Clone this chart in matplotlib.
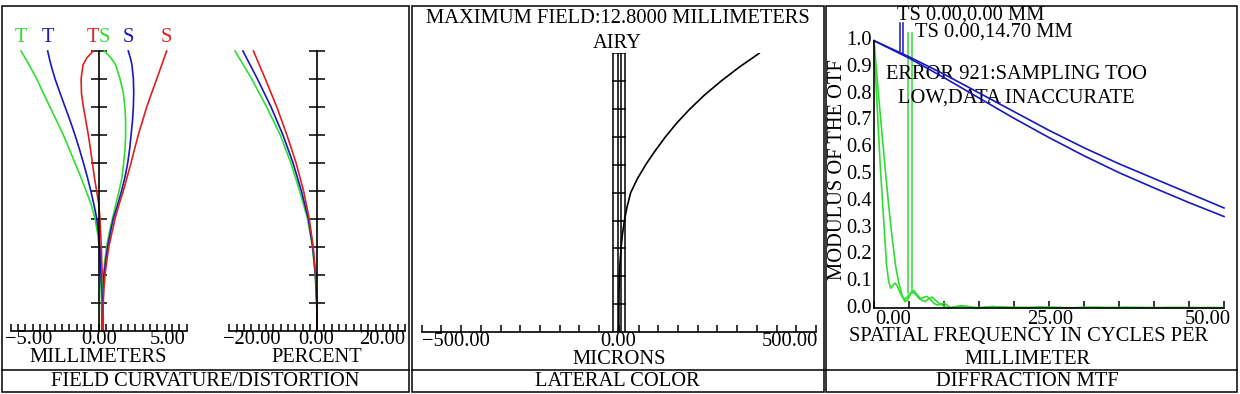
import numpy as np
import matplotlib
matplotlib.use("Agg")
import matplotlib.pyplot as plt
from matplotlib.patches import Rectangle

W, H = 1240, 394
plt.rcParams["font.family"] = ["Liberation Serif", "DejaVu Serif"]
FS = 14.8

RED = "#e02020"
GREEN = "#30dd30"
BLUE = "#1818c0"

# ---- field curvature / distortion data (relative field 0..1) ----
field_fc = [0.0, 0.05, 0.1, 0.15, 0.2, 0.25, 0.3, 0.35, 0.4, 0.45, 0.5,
            0.55, 0.6, 0.65, 0.7, 0.75, 0.8, 0.85, 0.9, 0.95, 0.975, 1.0]
tan_green = [0.17, 0.17, 0.16, 0.14, 0.11, 0.08, 0.03, -0.07, -0.21, -0.42, -0.72,
             -1.02, -1.35, -1.68, -2.01, -2.39, -2.77, -3.15, -3.52, -3.95, -4.18, -4.41]
tan_blue = [0.20, 0.20, 0.19, 0.17, 0.13, 0.10, 0.07, -0.01, -0.11, -0.27, -0.45,
            -0.65, -0.87, -1.10, -1.35, -1.62, -1.91, -2.20, -2.48, -2.71, -2.81, -2.90]
tan_red = [0.26, 0.26, 0.24, 0.22, 0.20, 0.17, 0.15, 0.11, 0.07, 0.01, -0.12,
           -0.25, -0.36, -0.47, -0.59, -0.73, -0.87, -0.98, -1.00, -0.89, -0.68, -0.31]
sag_green = [0.19, 0.19, 0.20, 0.23, 0.28, 0.35, 0.45, 0.60, 0.78, 0.97, 1.16,
             1.33, 1.42, 1.50, 1.53, 1.53, 1.49, 1.40, 1.21, 0.97, 0.70, 0.32]
sag_blue = [0.20, 0.20, 0.22, 0.26, 0.30, 0.40, 0.51, 0.66, 0.83, 1.08, 1.30,
            1.50, 1.65, 1.76, 1.84, 1.92, 1.97, 1.99, 1.97, 1.89, 1.80, 1.68]
sag_red = [0.24, 0.24, 0.26, 0.30, 0.36, 0.46, 0.58, 0.75, 0.93, 1.15, 1.40,
           1.62, 1.84, 2.04, 2.25, 2.49, 2.73, 3.01, 3.30, 3.58, 3.72, 3.86]

field_dist = [0.0, 0.1, 0.2, 0.3, 0.4, 0.5, 0.6, 0.7, 0.8, 0.9, 1.0]
dist_green = [0.0, -0.10, -0.45, -1.10, -2.20, -4.00, -6.00, -8.40, -11.50, -14.90, -18.70]
dist_blue = [0.0, -0.10, -0.40, -1.00, -2.00, -3.60, -5.50, -7.80, -10.50, -13.60, -16.90]
dist_red = [0.0, -0.08, -0.35, -0.90, -1.80, -3.10, -4.80, -6.90, -9.20, -11.80, -14.50]

# ---- lateral color data (microns) ----
field_lc = [0.0, 0.05, 0.1, 0.15, 0.2, 0.25, 0.3, 0.35, 0.4, 0.45, 0.5,
            0.55, 0.6, 0.65, 0.7, 0.75, 0.8, 0.85, 0.9, 0.95, 1.0]
lat_color = [0.0, 0.05, 0.2, 0.6, 1.5, 3.0, 5.6, 9.0, 14.0, 21.0, 30.0,
             47.0, 68.0, 92.0, 118.0, 147.0, 180.0, 217.0, 259.0, 305.0, 356.0]
airy_radius = 15.0
airy_inner = [-2.0, 5.0]

# ---- MTF data ----
freq_blue = [0, 5, 10, 15, 20, 25, 30, 35, 40, 45, 50]
mtf_blue_t = [1.0, 0.940, 0.875, 0.805, 0.735, 0.665, 0.600, 0.540, 0.485, 0.430, 0.375]
mtf_blue_s = [1.0, 0.935, 0.862, 0.786, 0.710, 0.638, 0.570, 0.507, 0.450, 0.395, 0.343]

freq_green_a = [0, 0.4, 0.9, 1.5, 1.8, 2.1, 2.4, 2.7, 3.0, 3.3, 3.7, 4.1, 4.5, 5.0, 5.5,
                6.0, 6.5, 7.0, 7.5, 8.0, 8.5, 9.0, 9.5, 10.0, 10.5, 11.0, 12, 13, 14,
                15, 16, 17, 18, 20, 22, 24, 26, 28, 30, 33, 36, 39, 42, 45, 48, 50]
mtf_green_a = [1.0, 0.78, 0.53, 0.28, 0.16, 0.10, 0.075, 0.085, 0.094, 0.085, 0.06, 0.04,
               0.035, 0.05, 0.062, 0.05, 0.035, 0.04, 0.045, 0.035, 0.02, 0.012, 0.015,
               0.02, 0.01, 0.002, 0.006, 0.008, 0.004, 0.002, 0.005, 0.007, 0.003, 0.004,
               0.002, 0.005, 0.003, 0.001, 0.004, 0.002, 0.004, 0.002, 0.003, 0.002,
               0.003, 0.002]
freq_green_b = [0, 0.7, 1.57, 2.0, 2.52, 3.1, 3.5, 4.0, 4.4, 4.8, 5.3, 5.7, 6.2, 6.8,
                7.3, 7.8, 8.3, 8.8, 9.3, 10.0, 10.6, 11.5, 12.5, 13.5, 14.5, 16, 18,
                20, 23, 26, 29, 32, 35, 38, 41, 44, 47, 50]
mtf_green_b = [1.0, 0.78, 0.53, 0.41, 0.28, 0.156, 0.10, 0.05, 0.025, 0.03, 0.06, 0.066,
               0.05, 0.03, 0.025, 0.035, 0.042, 0.03, 0.018, 0.008, 0.0, 0.006, 0.01,
               0.006, 0.002, 0.003, 0.006, 0.002, 0.004, 0.003, 0.002, 0.004, 0.002,
               0.003, 0.002, 0.003, 0.002, 0.002]

fig = plt.figure(figsize=(W / 100, H / 100), dpi=100)


def px_axes(x0, y0, x1, y1):
    ax = fig.add_axes([x0 / W, 1 - y1 / H, (x1 - x0) / W, (y1 - y0) / H])
    ax.patch.set_alpha(0)
    return ax


# background for frames and text, in pixel coordinates
bg = fig.add_axes([0, 0, 1, 1])
bg.set_xlim(0, W)
bg.set_ylim(H, 0)
bg.axis("off")

for x0, x1 in [(1.5, 408.5), (411.5, 823.5), (826, 1237)]:
    bg.add_patch(Rectangle((x0, 6), x1 - x0, 386, fill=False, lw=1.1, ec="black"))
    bg.plot([x0, x1], [370, 370], color="black", lw=1.1)


def txt(x, y, s, ha="center", **kw):
    bg.text(x, y, s, ha=ha, va="center", fontsize=FS, **kw)


def style_centered(ax, xmax, nticks):
    ax.set_xlim(-xmax, xmax)
    ax.set_ylim(0, 1)
    for s in ["top", "right"]:
        ax.spines[s].set_visible(False)
    ax.spines["left"].set_position(("data", 0))
    ax.spines["bottom"].set_position(("data", 0))
    for s in ["left", "bottom"]:
        ax.spines[s].set_linewidth(1.2)
    ax.set_xticks(np.linspace(-xmax, xmax, nticks))
    ax.set_yticks(np.arange(1, 11) / 10)
    ax.tick_params(axis="x", direction="in", length=5, width=1.1, labelbottom=False)
    ax.tick_params(axis="y", direction="inout", length=12, width=1.1, labelleft=False)


# ---- panel 1: field curvature ----
ax_fc = px_axes(10.7, 51, 186.7, 330.5)
style_centered(ax_fc, 5, 25)
curves = [(tan_green, GREEN, "T"), (tan_blue, BLUE, "T"), (tan_red, RED, "T"),
          (sag_green, GREEN, "S"), (sag_blue, BLUE, "S"), (sag_red, RED, "S")]
for vals, col, lab in curves:
    ax_fc.plot(vals, field_fc, color=col, lw=1.2, clip_on=False)
    ax_fc.annotate(lab, (vals[-1], 1.0), xytext=(0, 9.5), textcoords="offset points",
                   ha="center", va="center", color=col, fontsize=FS,
                   annotation_clip=False)

ax_di = px_axes(229.3, 51, 405, 330.5)
style_centered(ax_di, 20, 25)
for vals, col in [(dist_green, GREEN), (dist_blue, BLUE), (dist_red, RED)]:
    ax_di.plot(vals, field_dist, color=col, lw=1.2, clip_on=False)

txt(5, 340, "\u22125.00", ha="left")
txt(98.7, 340, "0.00")
txt(186, 340, "5.00", ha="right")
txt(98, 357.5, "MILLIMETERS")
txt(223, 340, "\u221220.00", ha="left")
txt(316, 340, "0.00")
txt(405.5, 340, "20.00", ha="right")
txt(317, 357.5, "PERCENT")
txt(205, 381, "FIELD CURVATURE/DISTORTION")

# ---- panel 2: lateral color ----
ax_lc = px_axes(421.7, 53.3, 816, 332)
ax_lc.set_xlim(-500, 500)
ax_lc.set_ylim(0, 1)
for s in ["top", "right", "left"]:
    ax_lc.spines[s].set_visible(False)
ax_lc.spines["bottom"].set_linewidth(1.2)
ax_lc.set_xticks(np.linspace(-500, 500, 21))
ax_lc.set_yticks([])
ax_lc.tick_params(axis="x", direction="in", length=5, width=1.1, labelbottom=False)
ax_lc.plot(lat_color, field_lc, color="black", lw=1.2)
# airy disk band
for xv in [-airy_radius] + airy_inner + [airy_radius]:
    ax_lc.plot([xv, xv], [0, 1], color="black", lw=1.1)
for f in np.arange(1, 11) / 10:
    ax_lc.plot([-airy_radius, airy_radius], [f, f], color="black", lw=1.1)

txt(617.5, 18, "MAXIMUM FIELD:12.8000 MILLIMETERS")
txt(617, 43, "AIRY")
txt(421.7, 342, "\u2212500.00", ha="left")
txt(618.5, 342, "0.00")
txt(818, 342, "500.00", ha="right")
txt(619, 360, "MICRONS")
txt(617, 381, "LATERAL COLOR")

# ---- panel 3: diffraction MTF ----
ax_mtf = px_axes(874, 40.7, 1224, 308.3)
ax_mtf.set_xlim(0, 50)
ax_mtf.set_ylim(0, 1)
for s in ["top", "right"]:
    ax_mtf.spines[s].set_visible(False)
for s in ["left", "bottom"]:
    ax_mtf.spines[s].set_linewidth(1.2)
ax_mtf.set_xticks(np.arange(0, 51, 5))
ax_mtf.set_yticks(np.arange(0, 11) / 10)
ax_mtf.tick_params(axis="x", direction="in", length=5, width=1.1, labelbottom=False)
ax_mtf.tick_params(axis="y", direction="in", length=0, labelleft=False)
ax_mtf.plot(freq_green_a, mtf_green_a, color=GREEN, lw=1.2, clip_on=False)
ax_mtf.plot(freq_green_b, mtf_green_b, color=GREEN, lw=1.2, clip_on=False)
ax_mtf.plot(freq_blue, mtf_blue_t, color=BLUE, lw=1.2, clip_on=False)
ax_mtf.plot(freq_blue, mtf_blue_s, color=BLUE, lw=1.2, clip_on=False)

# legend markers
for xp in [900, 903.3]:
    bg.plot([xp, xp], [23, 53], color=BLUE, lw=1.1)
for xp in [908.3, 912.3]:
    bg.plot([xp, xp], [33, 293], color=GREEN, lw=1.1)
txt(896.7, 15, "TS 0.00,0.00 MM", ha="left")
txt(915, 31.7, "TS 0.00,14.70 MM", ha="left")
txt(1016.7, 74, "ERROR 921:SAMPLING TOO")
txt(1016.7, 98, "LOW,DATA INACCURATE")

for v in np.arange(0, 11) / 10:
    txt(872, 308.3 - v * 267.6, f"{v:.1f}", ha="right")
bg.text(837, 170, "MODULUS OF THE OTF", rotation=90, ha="center", va="center", fontsize=FS)
txt(875, 320, "0.00", ha="left")
txt(1050, 320, "25.00")
txt(1231, 320, "50.00", ha="right")
txt(1029, 337, "SPATIAL FREQUENCY IN CYCLES PER")
txt(1028, 360, "MILLIMETER")
txt(1027, 381, "DIFFRACTION MTF")

fig.savefig("out.png", dpi=100)
